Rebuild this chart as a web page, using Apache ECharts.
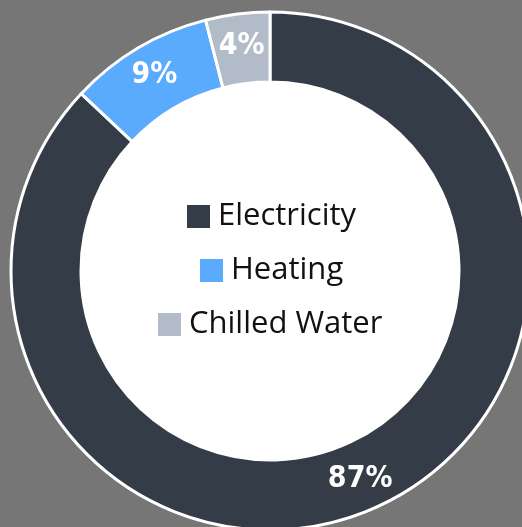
<!DOCTYPE html>
<html>
<head>
<meta charset="utf-8">
<style>
html,body{margin:0;padding:0;background:#767676;}
#chart{width:522px;height:527px;}
</style>
<script src="https://cdn.jsdelivr.net/npm/echarts@6/dist/echarts.min.js"></script>
</head>
<body>
<div id="chart"></div>
<script>
const categories = ['Electricity', 'Heating', 'Chilled Water'];
const values = [87, 9, 4];
const colors = ['#333c47', '#5aabfe', '#b1bcc8'];
const legendLefts = [185, 198, 156];
const legendTops = [200, 254, 308];

const chart = echarts.init(document.getElementById('chart'));
const legends = categories.map((c, i) => ({
  data: [c],
  orient: 'horizontal',
  left: legendLefts[i],
  top: legendTops[i] + 1,
  padding: 0,
  itemWidth: 25,
  itemHeight: 25,
  itemGap: 8,
  icon: 'rect',
  selectedMode: false,
  textStyle: { fontFamily: 'Open Sans', fontSize: 31, color: '#111111', padding: [0, 0, 0, 2] }
}));

chart.setOption({
  backgroundColor: '#767676',
  animation: false,
  color: colors,
  legend: legends,
  series: [
    {
      type: 'pie',
      radius: [0, 190],
      center: [270, 271],
      silent: true,
      label: { show: false },
      labelLine: { show: false },
      itemStyle: { color: '#ffffff' },
      data: [{ value: 1, name: '_bg' }],
      legendHoverLink: false
    },
    {
      type: 'pie',
      radius: [189, 259],
      center: [270, 271],
      startAngle: 90,
      clockwise: true,
      avoidLabelOverlap: false,
      itemStyle: { borderColor: '#ffffff', borderWidth: 3 },
      label: {
        show: true,
        position: 'inside',
        formatter: '{d}%',
        color: '#ffffff',
        fontFamily: 'DejaVu Sans Condensed',
        fontWeight: 'bold',
        fontSize: 30
      },
      labelLine: { show: false },
      data: categories.map((c, i) => ({ name: c, value: values[i] }))
    }
  ]
});
</script>
</body>
</html>
